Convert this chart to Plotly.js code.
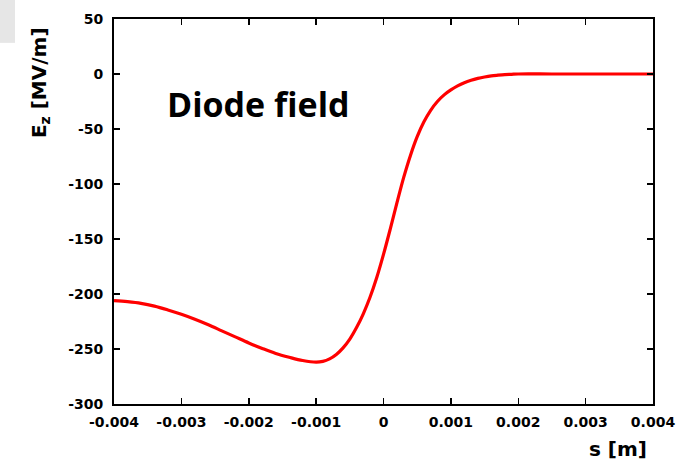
<!DOCTYPE html>
<html>
<head>
<meta charset="utf-8">
<script src="https://cdn.plot.ly/plotly-3.0.1.min.js"></script>
<style>html,body{margin:0;padding:0;background:#fff;}#chart{width:690px;height:462px;}</style>
</head>
<body>
<div id="chart"></div>
<script>
// Longitudinal position s [m]
const sValues = [-0.004, -0.0038, -0.0036, -0.0034, -0.0032, -0.003, -0.0028, -0.0026, -0.0024, -0.0022,
  -0.002, -0.0018, -0.0016, -0.0014, -0.0012, -0.001, -0.0009, -0.0008, -0.0007, -0.0006,
  -0.0005, -0.0004, -0.0003, -0.0002, -0.0001, 0, 0.0001, 0.0002, 0.0003, 0.0004,
  0.0005, 0.0006, 0.0007, 0.0008, 0.0009, 0.001, 0.0011, 0.0012, 0.0013, 0.0014,
  0.0015, 0.0016, 0.0017, 0.0018, 0.0019, 0.002, 0.0025, 0.003, 0.0035, 0.004];
// Field Ez [MV/m]
const ezValues = [-206, -207, -208.5, -211, -214.5, -218.5, -223, -228, -233.5, -239,
  -244.5, -249.5, -254, -257.5, -260.5, -262, -261.3, -259, -255, -249,
  -241, -230.5, -218, -203, -185, -164, -141, -117, -94, -74,
  -57, -43.5, -33, -25, -19, -14.5, -10.8, -7.9, -5.7, -4,
  -2.7, -1.7, -1.1, -0.6, -0.3, 0, 0, 0, 0, 0];

const xTickVals = [-0.004, -0.003, -0.002, -0.001, 0, 0.001, 0.002, 0.003, 0.004];
const xTickText = ["-0.004", "-0.003", "-0.002", "-0.001", "0", "0.001", "0.002", "0.003", "0.004"];
const yTickVals = [50, 0, -50, -100, -150, -200, -250, -300];
const yTickText = ["50", "0", "-50", "-100", "-150", "-200", "-250", "-300"];

const chartLabel = "Diode field";
const xTitle = "s [m]";
const yTitle = "E<sub>z</sub> [MV/m]";

const tickFont = {family: "DejaVu Sans", size: 14, color: "#000", weight: 700};
const axisCommon = {
  showgrid: false, zeroline: false, showline: true, linecolor: "#000", linewidth: 2,
  mirror: "ticks", ticks: "inside", ticklen: 6, tickwidth: 1.5, tickcolor: "#000",
  tickfont: tickFont, tickmode: "array"
};

const trace = {
  x: sValues, y: ezValues, type: "scatter", mode: "lines",
  line: {color: "#ff0000", width: 3.2, shape: "spline", smoothing: 1},
  hoverinfo: "skip"
};

const layout = {
  width: 690, height: 462,
  margin: {l: 114, r: 37, t: 19, b: 58},
  paper_bgcolor: "#fff", plot_bgcolor: "#fff",
  showlegend: false,
  xaxis: Object.assign({}, axisCommon, {range: [-0.004, 0.004], tickvals: xTickVals, ticktext: xTickText, ticklabelstandoff: 4}),
  yaxis: Object.assign({}, axisCommon, {range: [-300, 50], tickvals: yTickVals, ticktext: yTickText, ticklabelstandoff: 6}),
  annotations: [
    {text: chartLabel, xref: "paper", yref: "paper", x: 0.268, y: 0.78, xanchor: "center", yanchor: "middle",
     showarrow: false, font: {family: "Open Sans", size: 34, color: "#000", weight: 700}},
    {text: yTitle, xref: "paper", yref: "paper", x: -0.137, y: 0.834, xanchor: "center", yanchor: "middle",
     textangle: -90, showarrow: false, font: {family: "DejaVu Sans", size: 20, color: "#000", weight: 700}},
    {text: xTitle, xref: "paper", yref: "paper", x: 0.935, y: -0.117, xanchor: "center", yanchor: "middle",
     showarrow: false, font: {family: "DejaVu Sans", size: 20, color: "#000", weight: 700}}
  ],
  shapes: [
    {type: "rect", xref: "paper", yref: "paper", x0: -0.2115, x1: -0.1837, y0: 0.938, y1: 1.05,
     fillcolor: "#e6e6e6", line: {width: 0}, layer: "below"}
  ]
};

Plotly.newPlot("chart", [trace], layout, {staticPlot: true, displayModeBar: false});
</script>
</body>
</html>
